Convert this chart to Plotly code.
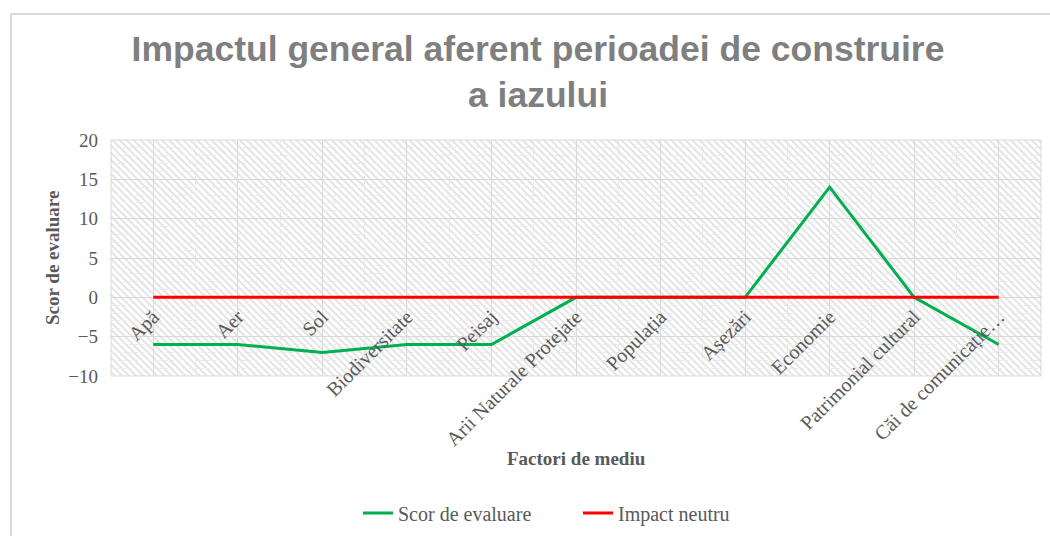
import base64
import plotly.graph_objects as go

categories = ["Apă", "Aer", "Sol", "Biodiversitate", "Peisaj", "Arii Naturale Protejate",
              "Populația", "Așezări", "Economie", "Patrimonial cultural", "Căi de comunicație…"]
scor_evaluare = [-6, -6, -7, -6, -6, 0, 0, 0, 14, 0, -6]
impact_neutru = [0, 0, 0, 0, 0, 0, 0, 0, 0, 0, 0]
y_ticks = [-10, -5, 0, 5, 10, 15, 20]

W, H = 1050, 536
L, R, T, B = 111, 9, 140, 160
PW, PH = W - L - R, H - T - B

idx = list(range(len(categories)))

svg = (f'<svg xmlns="http://www.w3.org/2000/svg" width="{PW}" height="{PH}">'
       '<defs><pattern id="p" width="5" height="5" patternUnits="userSpaceOnUse" '
       'patternTransform="rotate(-45)"><rect width="2" height="5" fill="#e4e4e4"/></pattern></defs>'
       f'<rect width="{PW}" height="{PH}" fill="white"/>'
       f'<rect width="{PW}" height="{PH}" fill="url(#p)"/></svg>')
src = "data:image/svg+xml;base64," + base64.b64encode(svg.encode()).decode()

serif = "Liberation Serif, Times New Roman, serif"
gray = "#595959"

fig = go.Figure()
fig.add_trace(go.Scatter(x=idx, y=scor_evaluare, mode="lines", name="Scor de evaluare",
                         line=dict(color="#00B050", width=3)))
fig.add_trace(go.Scatter(x=idx, y=impact_neutru, mode="lines", name="Impact neutru",
                         line=dict(color="#FF0000", width=3)))

def px2px(x):
    return (x - L) / PW

def py2py(y):
    return (H - B - y) / PH

fig.update_layout(
    width=W, height=H,
    margin=dict(l=L, r=R, t=T, b=B, autoexpand=False),
    paper_bgcolor="white",
    plot_bgcolor="rgba(0,0,0,0)",
    title=dict(text="Impactul general aferent perioadei de construire<br>a iazului",
               x=538 / W, xanchor="center", y=1 - 61 / H, yanchor="top",
               font=dict(family="Liberation Sans, Arial, sans-serif", size=35.5, color="#7f7f7f",
                         weight="bold")),
    xaxis=dict(
        range=[-0.5, len(categories) - 0.5],
        tickmode="array", tickvals=idx, ticktext=categories,
        tickangle=-45, anchor="free", position=1 / 3,
        showline=False, zeroline=False, ticks="", automargin=False,
        showgrid=True, gridcolor="#d9d9d9", gridwidth=1,
        minor=dict(tickmode="linear", tick0=-0.5, dtick=0.5, showgrid=True,
                   gridcolor="#e6e6e6", griddash="dot"),
        tickfont=dict(family=serif, size=20, color=gray),
        ticklabelstandoff=3,
    ),
    yaxis=dict(
        range=[-10, 20], tickmode="array", tickvals=y_ticks, automargin=False,
        showgrid=True, gridcolor="#d9d9d9", gridwidth=1,
        zeroline=True, zerolinecolor="#d9d9d9", zerolinewidth=1,
        minor=dict(dtick=1, showgrid=True, gridcolor="#ececec", griddash="dot"),
        showline=False, ticks="",
        tickfont=dict(family=serif, size=19, color=gray),
        ticklabelstandoff=12,
    ),
    legend=dict(orientation="h", x=px2px(578), xanchor="center",
                y=py2py(513), yanchor="middle", entrywidth=175,
                font=dict(family=serif, size=20, color=gray), bgcolor="rgba(0,0,0,0)"),
    images=[dict(source=src, xref="paper", yref="paper", x=0, y=1, sizex=1, sizey=1,
                 xanchor="left", yanchor="top", sizing="stretch", layer="below")],
    shapes=[
        dict(type="rect", xref="paper", yref="paper", x0=0, x1=1, y0=0, y1=1,
             line=dict(color="#d9d9d9", width=1), layer="below"),
        dict(type="rect", xref="paper", yref="paper", x0=px2px(11), x1=px2px(1070),
             y0=py2py(560), y1=py2py(14), line=dict(color="#d9d9d9", width=2), layer="below"),
    ],
    annotations=[
        dict(text="<b>Scor de evaluare</b>", xref="paper", yref="paper",
             x=px2px(52), y=py2py(258), textangle=-90, showarrow=False,
             xanchor="center", yanchor="middle",
             font=dict(family=serif, size=19, color=gray)),
        dict(text="<b>Factori de mediu</b>", xref="paper", yref="paper",
             x=px2px(576), y=py2py(458), showarrow=False,
             xanchor="center", yanchor="middle",
             font=dict(family=serif, size=19, color=gray)),
    ],
)

fig.write_html("out.html", config={"displayModeBar": False},
               post_script="document.body.style.margin='0';")
